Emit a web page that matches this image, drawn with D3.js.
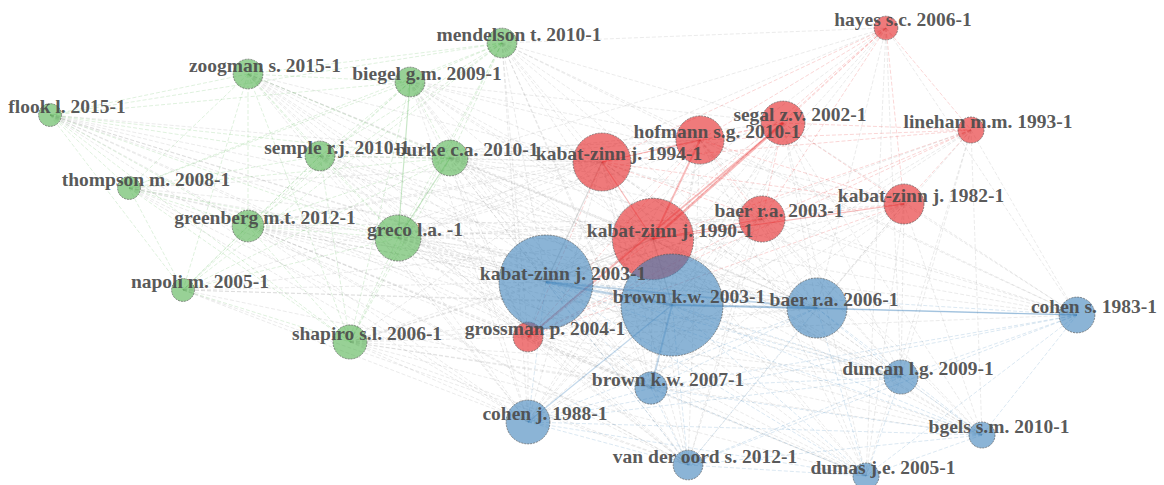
<!DOCTYPE html>
<html>
<head>
<meta charset="utf-8">
<script src="https://cdnjs.cloudflare.com/ajax/libs/d3/7.8.5/d3.min.js"></script>
<style>
  html, body { margin: 0; padding: 0; background: #fff; }
  #net { width: 1164px; height: 485px; overflow: hidden; }
</style>
</head>
<body>
<div id="net"></div>
<script>
// Co-citation network: nodes, clusters, citations and layout coordinates
var nodeNames = [
  "mendelson t. 2010-1", "zoogman s. 2015-1", "biegel g.m. 2009-1", "flook l. 2015-1",
  "semple r.j. 2010-1", "burke c.a. 2010-1", "thompson m. 2008-1", "greenberg m.t. 2012-1",
  "greco l.a. -1", "napoli m. 2005-1", "shapiro s.l. 2006-1",
  "hayes s.c. 2006-1", "segal z.v. 2002-1", "hofmann s.g. 2010-1", "linehan m.m. 1993-1",
  "kabat-zinn j. 1994-1", "kabat-zinn j. 1982-1", "baer r.a. 2003-1", "kabat-zinn j. 1990-1",
  "grossman p. 2004-1",
  "kabat-zinn j. 2003-1", "brown k.w. 2003-1", "baer r.a. 2006-1", "cohen s. 1983-1",
  "brown k.w. 2007-1", "duncan l.g. 2009-1", "cohen j. 1988-1", "bgels s.m. 2010-1",
  "van der oord s. 2012-1", "dumas j.e. 2005-1"
];
var nodeCluster = [
  3, 3, 3, 3, 3, 3, 3, 3, 3, 3, 3,
  1, 1, 1, 1, 1, 1, 1, 1, 1,
  2, 2, 2, 2, 2, 2, 2, 2, 2, 2
];
var nodeCites = [
  22, 22, 22, 13, 22, 32, 13, 25, 53, 13, 29,
  14, 48, 58, 17, 84, 40, 53, 165, 22,
  221, 260, 90, 32, 26, 29, 48, 17, 22, 17
];
var layoutX = [
  452, 198, 360, 0, 270, 400, 79, 198, 348, 133, 300,
  836, 733, 650, 921, 552, 854, 712, 603, 478,
  496, 622, 767, 1027, 601, 851, 478, 932, 638, 816
];
var layoutY = [
  15, 46, 54, 87, 128, 130, 160, 198, 210, 262, 314,
  0, 95, 112, 102, 134, 176, 191, 211, 309,
  254, 277, 280, 287, 360, 349, 394, 407, 437, 448
];

// neighbours of each node with a higher index
var neighbours = [
  "1 2 3 4 5 6 7 8 9 10 11 12 13 15 17 18 19 20 21 22 23 24 26 28",
  "2 3 4 5 6 7 8 9 10 15 18 19 20 21 22 24 25 26 28 29",
  "3 4 5 6 7 8 9 10 12 13 15 16 18 19 20 21 22 24 26 27 28",
  "4 5 6 7 8 9 10 15 18 20 21 22 24 25 26 28 29",
  "5 6 7 8 9 10 13 15 18 19 20 21 22 24 26 28",
  "6 7 8 9 10 11 12 13 15 16 17 18 19 20 21 22 23 24 25 26 27 28 29",
  "7 8 9 10 15 18 20 21 22 24 26 28",
  "8 9 10 13 15 17 18 19 20 21 22 24 25 26 27 28 29",
  "9 10 11 12 13 15 16 17 18 19 20 21 22 23 24 25 26 27 28 29",
  "10 15 18 20 21 22 24 26 28",
  "15 17 18 19 20 21 22 24 25 26 27 28 29",
  "12 13 14 15 16 17 18 19 20 21 22 23 25 26 29",
  "13 14 15 16 17 18 19 20 21 22 23 24 25 26 27 28 29",
  "14 15 16 17 18 19 20 21 22 23 24 25 26 27 28 29",
  "15 16 17 18 19 20 21 22 23 25 26 27 29",
  "16 17 18 19 20 21 22 23 24 25 26 27 28 29",
  "17 18 19 20 21 22 23 24 25 26 27 28 29",
  "18 19 20 21 22 23 24 25 26 27 28 29",
  "19 20 21 22 23 24 25 26 27 28 29",
  "20 21 22 23 24 25 26 27 28 29",
  "21 22 23 24 25 26 27 28 29",
  "22 23 24 25 26 27 28 29",
  "23 24 25 26 27 28 29",
  "24 25 26 27 28 29",
  "25 26 27 28 29",
  "26 27 28 29",
  "27 28 29",
  "28 29",
  "29",
  ""
];

// links that are drawn heavier than the default weight of 1
var strongLinks = [
  [12, 18, 4], [12, 19, 3], [13, 18, 3], [15, 18, 2], [17, 18, 2], [16, 18, 2],
  [13, 15, 2], [20, 21, 4], [21, 22, 4], [20, 22, 3], [21, 24, 3], [21, 26, 2],
  [22, 23, 2], [21, 23, 2], [18, 20, 2], [18, 21, 2], [15, 20, 2], [5, 8, 2], [2, 8, 2]
];

var clusterColor = { 1: "#E41A1C", 2: "#377EB8", 3: "#4DAF4A" };

var width = 1164, height = 485;

var x = d3.scaleLinear().domain([0, 1027]).range([50, 1077]);
var y = d3.scaleLinear().domain([0, 448]).range([28, 476]);
var r = d3.scaleSqrt().domain([0, 260]).range([0, 51]);
var w = d3.scaleLinear().domain([1, 4]).range([0.6, 2.4]);

var nodes = nodeNames.map(function(name, i) {
  return { id: i, name: name, cluster: nodeCluster[i], cites: nodeCites[i], lx: layoutX[i], ly: layoutY[i] };
});

var weightOf = {};
strongLinks.forEach(function(l) { weightOf[l[0] + "-" + l[1]] = l[2]; });

var links = [];
neighbours.forEach(function(s, i) {
  if (!s) return;
  s.split(" ").forEach(function(t) {
    var j = +t;
    links.push({ source: nodes[i], target: nodes[j], weight: weightOf[i + "-" + j] || 1 });
  });
});
// heavier links on top
links.sort(function(a, b) { return a.weight - b.weight; });

var svg = d3.select("#net")
  .append("svg")
  .attr("width", width)
  .attr("height", height);

// Draw the edges
svg.append("g")
  .selectAll("line")
  .data(links)
  .enter()
  .append("line")
  .attr("x1", function(d) { return x(d.source.lx); })
  .attr("y1", function(d) { return y(d.source.ly); })
  .attr("x2", function(d) { return x(d.target.lx); })
  .attr("y2", function(d) { return y(d.target.ly); })
  .style("stroke", function(d) {
    return d.source.cluster === d.target.cluster ? clusterColor[d.source.cluster] : "#999";
  })
  .style("stroke-opacity", function(d) {
    return d.source.cluster === d.target.cluster ? 0.3 : 0.34;
  })
  .style("stroke-width", function(d) { return w(d.weight) + "px"; })
  .style("stroke-dasharray", function(d) { return d.weight > 1 ? null : "4,2"; });

// Draw the nodes
svg.append("g")
  .selectAll("circle")
  .data(nodes)
  .enter()
  .append("circle")
  .attr("cx", function(d) { return x(d.lx); })
  .attr("cy", function(d) { return y(d.ly); })
  .attr("r", function(d) { return r(d.cites); })
  .style("fill", function(d) { return clusterColor[d.cluster]; })
  .style("fill-opacity", 0.58)
  .style("stroke", "#555")
  .style("stroke-opacity", 0.8)
  .style("stroke-width", "0.8px")
  .style("stroke-dasharray", "2,1");

// Put the labels on the nodes
svg.append("g")
  .selectAll("text")
  .data(nodes)
  .enter()
  .append("text")
  .attr("x", function(d) { return x(d.lx) + 17; })
  .attr("y", function(d) { return y(d.ly) - 2; })
  .attr("text-anchor", "middle")
  .attr("font-family", "'Liberation Serif', 'Times New Roman', serif")
  .attr("font-weight", "bold")
  .attr("font-size", "19.5px")
  .style("fill", "#4a4a4a")
  .style("fill-opacity", 0.92)
  .text(function(d) { return d.name; });
</script>
</body>
</html>
